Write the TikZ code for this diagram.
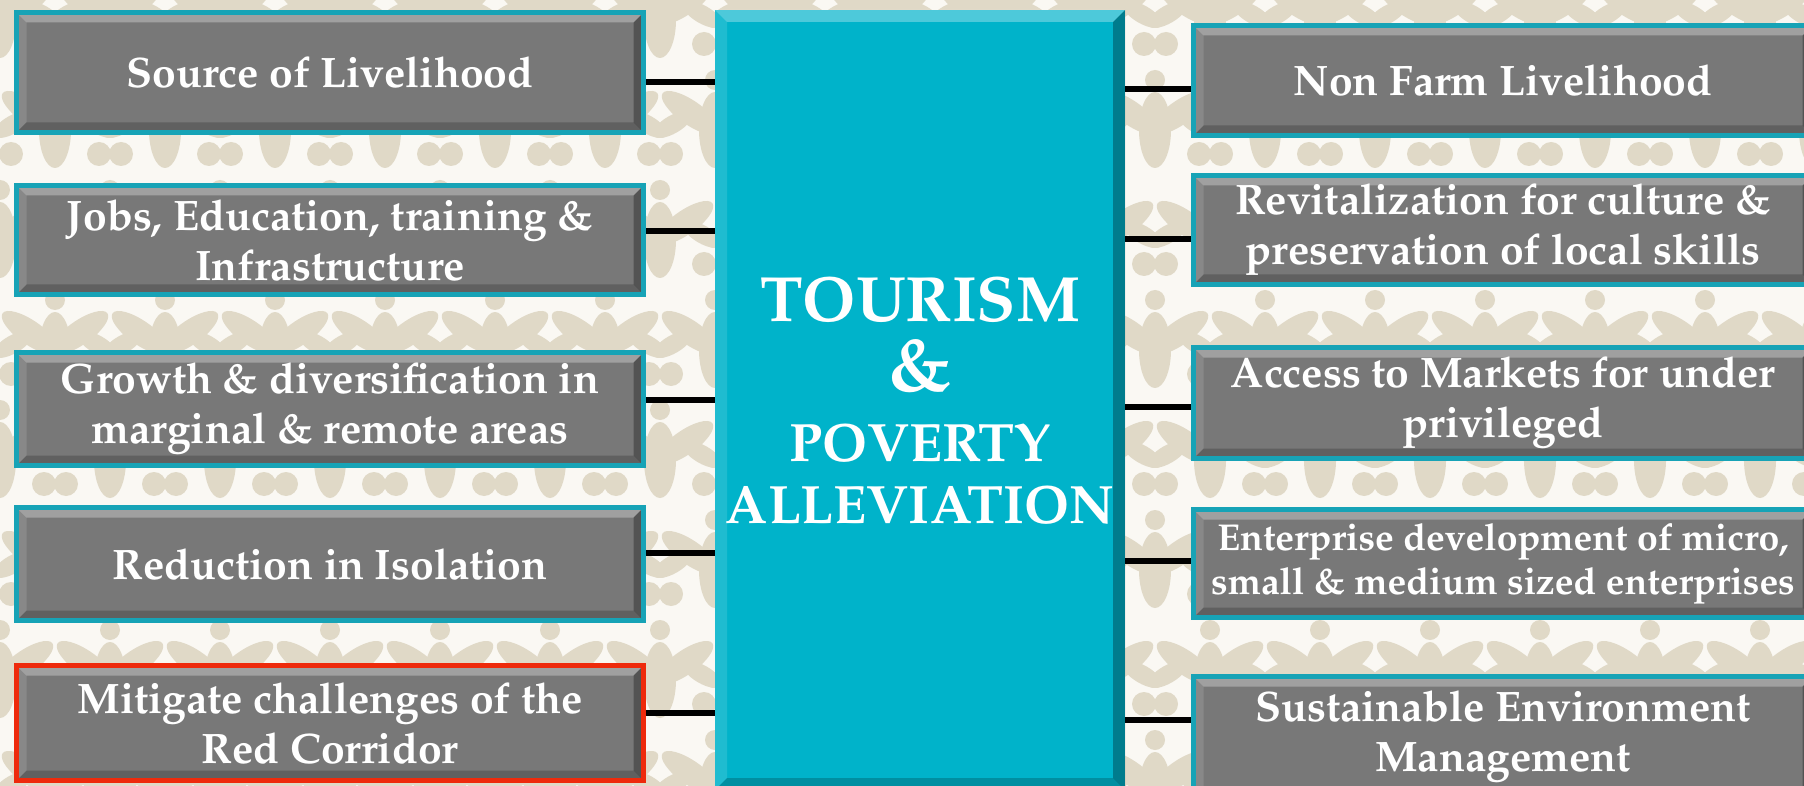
\documentclass[tikz,border=0pt]{standalone}
\usepackage[T1]{fontenc}
\usepackage{mathpazo}
\definecolor{tealline}{HTML}{17A3B6}
\definecolor{hubfill}{HTML}{00B3CA}
\definecolor{boxgray}{HTML}{787878}
\definecolor{redline}{HTML}{EE2A0C}
\definecolor{paper}{HTML}{FAF8F3}
\definecolor{damask}{HTML}{E0D9C7}
\tikzset{
  bevel/.style={path picture={
    \fill[white,opacity=.3]
      (path picture bounding box.north west) -- (path picture bounding box.north east)
      -- ([shift={(-#1,-#1)}]path picture bounding box.north east)
      -- ([shift={(#1,-#1)}]path picture bounding box.north west) -- cycle;
    \fill[white,opacity=.12]
      (path picture bounding box.north west) -- (path picture bounding box.south west)
      -- ([shift={(#1,#1)}]path picture bounding box.south west)
      -- ([shift={(#1,-#1)}]path picture bounding box.north west) -- cycle;
    \fill[black,opacity=.3]
      (path picture bounding box.north east) -- (path picture bounding box.south east)
      -- ([shift={(-#1,#1)}]path picture bounding box.south east)
      -- ([shift={(-#1,-#1)}]path picture bounding box.north east) -- cycle;
    \fill[black,opacity=.2]
      (path picture bounding box.south west) -- (path picture bounding box.south east)
      -- ([shift={(-#1,#1)}]path picture bounding box.south east)
      -- ([shift={(#1,#1)}]path picture bounding box.south west) -- cycle;
  }},
  bevel/.default=5pt
}
\begin{document}
\begin{tikzpicture}
  [x=0.5pt,y=-0.5pt,
   every node/.style={font=\bfseries\fontsize{21.3}{25}\selectfont,text=white,align=center,inner sep=0pt},
   lbox/.style={rectangle,fill=boxgray,draw=tealline,line width=2.5pt,bevel,minimum width=313.5pt},
   rbox/.style={lbox,minimum width=309.5pt},
   hot/.style={lbox,draw=redline},
   hubbox/.style={rectangle,fill=hubfill,bevel=6pt,minimum width=205pt,minimum height=390pt,
     font=\bfseries\fontsize{27}{35}\selectfont},
   link/.style={line width=2.75pt,black}]
  \useasboundingbox (0,0) rectangle (1804,786);
  \clip (0,0) rectangle (1804,786);
  \fill[paper] (0,0) rectangle (1804,786);
  % damask background
  \foreach \j in {0,...,7}
    \foreach \i in {0,...,17} {
      \pgfmathsetmacro\xx{\i*110+mod(\j,2)*55}
      \pgfmathsetmacro\yy{\j*110+20}
      \fill[damask] (\xx,\yy) ellipse [x radius=8pt,y radius=19pt];
      \fill[damask,rotate around={35:(\xx,\yy)}] (\xx+30,\yy) ellipse [x radius=17pt,y radius=6pt];
      \fill[damask,rotate around={-35:(\xx,\yy)}] (\xx-30,\yy) ellipse [x radius=17pt,y radius=6pt];
      \fill[damask,rotate around={-30:(\xx,\yy)}] (\xx+34,\yy-26) ellipse [x radius=11pt,y radius=4.5pt];
      \fill[damask,rotate around={30:(\xx,\yy)}] (\xx-34,\yy-26) ellipse [x radius=11pt,y radius=4.5pt];
      \fill[damask] (\xx+44,\yy+24) circle [radius=6pt] (\xx-44,\yy+24) circle [radius=6pt];
      \fill[damask] (\xx,\yy-50) circle [radius=5pt];
    }

  \node[hubbox] (hub) at (920,400) {{\fontsize{32}{35}\selectfont TOURISM}\\
    {\fontsize{38}{35}\selectfont\&}\\POVERTY\\[-4pt]ALLEVIATION};

  \node[lbox,minimum height=60pt] (l1) at (330,72.5) {Source of Livelihood};
  \node[lbox,minimum height=54.5pt] (l2) at (330,240) {Jobs, Education, training \&\\Infrastructure};
  \node[lbox,minimum height=56.5pt] (l3) at (330,409) {Growth \& diversification in\\marginal \& remote areas};
  \node[lbox,minimum height=56.5pt] (l4) at (330,564) {Reduction in Isolation};
  \node[hot,minimum height=57.5pt] (l5) at (330,723) {Mitigate challenges of the\\Red Corridor};

  \node[rbox,minimum height=55pt] (r1) at (1503,80.5) {Non Farm Livelihood};
  \node[rbox,minimum height=54.5pt] (r2) at (1503,230) {Revitalization for culture \&\\preservation of local skills};
  \node[rbox,minimum height=55.5pt] (r3) at (1503,403) {Access to Markets for under\\privileged};
  \node[rbox,minimum height=54pt,font=\bfseries\fontsize{18.7}{22}\selectfont] (r4) at (1503,563.5)
    {Enterprise development of micro,\\small \& medium sized enterprises};
  \node[rbox,minimum height=60.5pt] (r5) at (1503,737) {Sustainable Environment\\Management};

  \foreach \from/\dy in {l1/-4.75pt,l2/4.5pt,l3/4.5pt,l4/5.5pt,l5/5pt}
    \draw[link] ([yshift=\dy]\from.east) -- ([yshift=\dy]\from.east -| hub.west);
  \foreach \to/\dy in {r1/-4.25pt,r2/-4.5pt,r3/-2pt,r4/1.25pt,r5/8.5pt}
    \draw[link] ([yshift=\dy]\to.west -| hub.east) -- ([yshift=\dy]\to.west);

\end{tikzpicture}
\end{document}
